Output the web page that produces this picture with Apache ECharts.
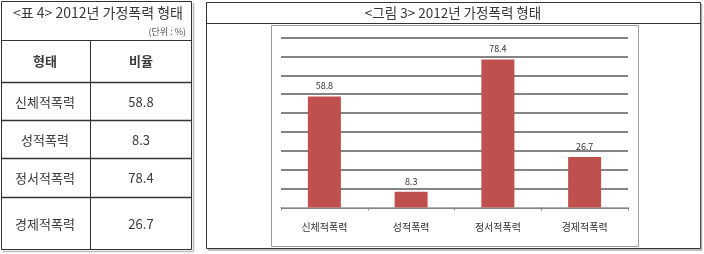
<!DOCTYPE html>
<html><head><meta charset="utf-8">
<script src="https://cdn.jsdelivr.net/npm/echarts@6/dist/echarts.min.js"></script>
<style>html,body{margin:0;padding:0;background:#fff}#c{width:704px;height:254px}</style>
</head><body><div id="c"></div>
<script>
const categories = ['신체적폭력', '성적폭력', '정서적폭력', '경제적폭력'];
const values = [58.8, 8.3, 78.4, 26.7];
const tableTitle = '<표 4> 2012년 가정폭력 형태';
const tableUnit = '(단위 : %)';
const tableHeaders = ['형태', '비율'];
const chartTitle = '<그림 3> 2012년 가정폭력 형태';

const FONT = '"Noto Sans CJK KR", sans-serif';
const chart = echarts.init(document.getElementById('c'), null, {renderer: 'canvas'});

const rowLines = [81.5, 120, 158, 196.5, 250];
const g = [];
function line(x1, y1, x2, y2, color, w) {
  g.push({type: 'line', shape: {x1, y1, x2, y2}, style: {stroke: color || '#222', lineWidth: w || 1}, silent: true});
}
function text(x, y, t, size, opts) {
  g.push({type: 'text', x, y, style: Object.assign({text: t, font: (opts && opts.bold ? 'bold ' : '') + size + 'px ' + FONT, fill: (opts && opts.fill) || '#3a3a3a', align: (opts && opts.align) || 'center', verticalAlign: 'middle'}), silent: true});
}
// table
g.push({type: 'rect', shape: {x: 1.5, y: 1.5, width: 190, height: 248}, style: {fill: 'none', stroke: '#333', lineWidth: 1}, silent: true});
line(193.5, 3, 193.5, 251, '#bbb', 1.5);
line(3, 251.5, 193.5, 251.5, '#bbb', 1.5);
line(1.5, 40.5, 191.5, 40.5, '#333', 1);
line(90.5, 40.5, 90.5, 249.5, '#333', 1);
[81.5, 120, 158, 196.5].forEach(y => line(1.5, Math.round(y) + 0.5, 191.5, Math.round(y) + 0.5, '#333', 1.5));
text(98, 13, tableTitle, 14);
text(186, 32, tableUnit, 9, {align: 'right', fill: '#555'});
text(45, 61, tableHeaders[0], 13, {bold: true});
text(141, 61, tableHeaders[1], 13, {bold: true});
const rowTops = [81.5, 120, 158, 196.5];
categories.forEach((c, i) => {
  const cy = (rowTops[i] + rowLines[i + 1]) / 2;
  text(45, cy + 1, c, 13);
  text(141, cy + 1, String(values[i]), 13);
});

// chart panel
g.push({type: 'rect', shape: {x: 206.5, y: 2.5, width: 494, height: 246}, style: {fill: 'none', stroke: '#333', lineWidth: 1}, silent: true});
line(701.5, 4, 701.5, 250, '#aaa', 1.5);
line(208, 250, 702, 250, '#aaa', 1.5);
line(206.5, 23.5, 700.5, 23.5, '#333', 1);
text(453, 13, chartTitle, 13.5);
g.push({type: 'rect', shape: {x: 271.5, y: 25.5, width: 367, height: 221}, style: {fill: 'none', stroke: '#9a9a9a', lineWidth: 1}, silent: true});

chart.setOption({
  animation: false,
  grid: {left: 281, right: 76, top: 37.5, bottom: 46.5, containLabel: false},
  xAxis: {
    type: 'category', data: categories,
    axisLine: {lineStyle: {color: '#b0b0b0', width: 1}},
    axisTick: {show: true, length: 3, lineStyle: {color: '#888'}},
    axisLabel: {color: '#333', fontSize: 10, fontFamily: FONT, margin: 15}
  },
  yAxis: {
    type: 'value', min: 0, max: 90, interval: 10,
    axisLabel: {show: false}, axisLine: {show: false}, axisTick: {show: false},
    splitLine: {show: true, lineStyle: {color: '#858585', width: 2}}
  },
  series: [{
    type: 'bar', data: values, barWidth: 33,
    itemStyle: {color: '#c0504d'},
    label: {show: true, position: 'top', color: '#333', fontSize: 9, fontFamily: FONT, distance: 6}
  }],
  graphic: g
});
</script></body></html>
